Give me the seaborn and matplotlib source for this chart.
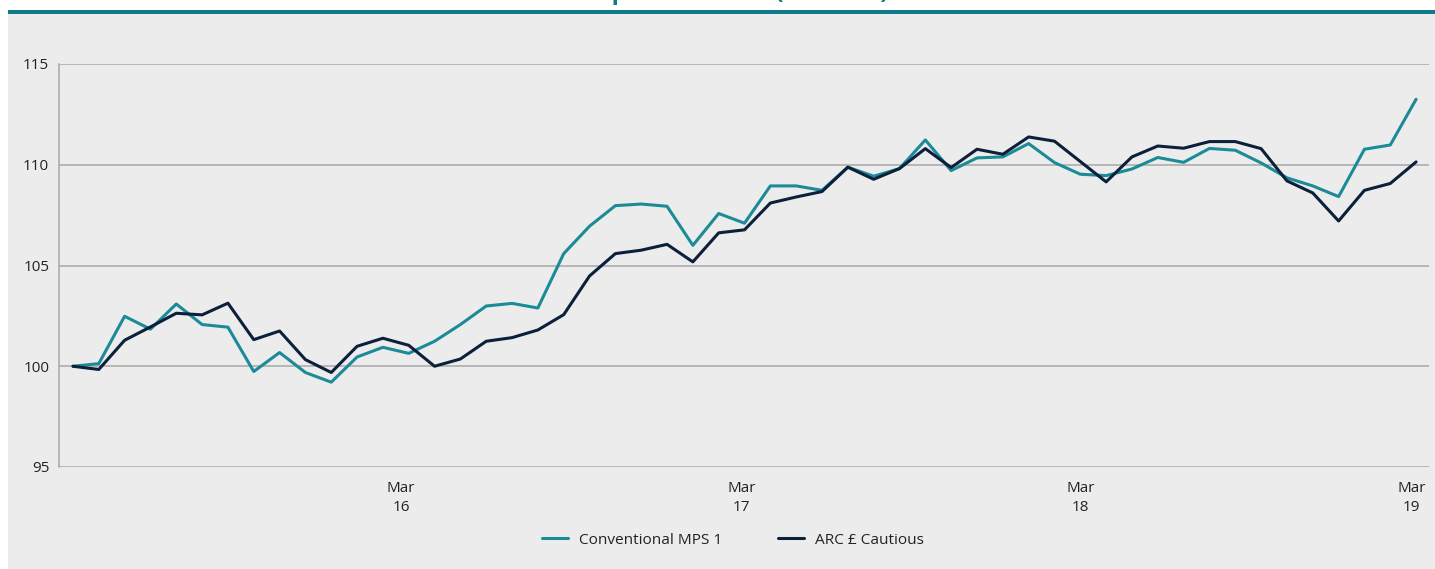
import numpy as np
import pandas as pd
import seaborn as sns
import matplotlib.pyplot as plt
from matplotlib.patches import Rectangle

# 4-weekly index values, rebased to 100
conventional = [100.0, 100.13, 102.48, 101.84, 103.09, 102.07, 101.94, 99.74, 100.68, 99.69,
                99.21, 100.46, 100.94, 100.64, 101.24, 102.07, 102.99, 103.12, 102.89, 105.59,
                106.95, 107.97, 108.05, 107.94, 106.0, 107.58, 107.10, 108.95, 108.95, 108.73,
                109.88, 109.43, 109.81, 111.23, 109.71, 110.34, 110.39, 111.05, 110.11, 109.53,
                109.46, 109.79, 110.36, 110.12, 110.81, 110.72, 110.09, 109.35, 108.95, 108.42,
                110.77, 110.98, 113.25]
arc_cautious = [100.0, 99.84, 101.29, 101.95, 102.63, 102.55, 103.13, 101.32, 101.75, 100.33,
                99.69, 100.99, 101.39, 101.04, 100.0, 100.36, 101.24, 101.42, 101.80, 102.56,
                104.48, 105.59, 105.76, 106.05, 105.18, 106.62, 106.77, 108.10, 108.40, 108.67,
                109.88, 109.28, 109.81, 110.80, 109.86, 110.77, 110.52, 111.38, 111.17, 110.16,
                109.15, 110.39, 110.93, 110.82, 111.15, 111.15, 110.80, 109.20, 108.60, 107.21,
                108.73, 109.07, 110.14]
series_names = ["Conventional MPS 1", "ARC £ Cautious"]
tick_pos = [12.71, 25.88, 39.02, 51.82]
tick_labels = ["Mar\n16", "Mar\n17", "Mar\n18", "Mar\n19"]
y_ticks = [95, 100, 105, 110, 115]

teal = "#1b8b97"
navy = "#0c1f3b"
panel = "#ececec"
grid = "#a8a8a8"

sns.set_style("white")
plt.rcParams["font.family"] = ["Open Sans", "DejaVu Sans"]

df = pd.DataFrame({
    "step": np.tile(np.arange(len(conventional)), 2),
    "value": conventional + arc_cautious,
    "series": np.repeat(series_names, len(conventional)),
})

W, H = 1435, 569
fig = plt.figure(figsize=(W / 100, H / 100), dpi=100, facecolor="white")

# grey panel + teal header rule, kept behind the axes
fig.patches.append(Rectangle((8 / W, 0), 1, 1 - 14 / H, transform=fig.transFigure,
                             facecolor=panel, edgecolor="none", zorder=-10))
fig.patches.append(Rectangle((8 / W, 1 - 13.5 / H), 1, 3.5 / H, transform=fig.transFigure,
                             facecolor="#0f7b88", edgecolor="none", zorder=-9))
# title sits mostly above the crop (as in the source), only descenders show
fig.text(677 / W, 1 + 1 / H, "Cumulative performance (rebased)", ha="center", va="baseline",
         fontsize=17.5, fontweight="bold", color="#0f7b88")

ax = fig.add_axes([59 / W, 1 - 467 / H, (1429 - 59) / W, (467 - 64) / H])
ax.set_zorder(5)
ax.set_facecolor(panel)
sns.lineplot(data=df, x="step", y="value", hue="series", palette=[teal, navy],
             linewidth=2.2, ax=ax, legend=False)

ax.set_xlim(-0.54, 52.5)
ax.set_ylim(95, 115)
ax.set_yticks(y_ticks)
ax.set_xticks(tick_pos)
ax.set_xticklabels(tick_labels, linespacing=1.4)
ax.tick_params(axis="both", length=0, labelsize=11, colors="#222222")
ax.tick_params(axis="x", pad=10)
ax.tick_params(axis="y", pad=7)
ax.yaxis.grid(True, color=grid, linewidth=1.1)
ax.xaxis.grid(False)
ax.set_axisbelow(True)
for side in ["top", "right", "bottom"]:
    ax.spines[side].set_visible(False)
ax.spines["left"].set_color(grid)
ax.spines["left"].set_linewidth(1.1)
ax.set_xlabel("")
ax.set_ylabel("")

handles = [plt.Line2D([], [], color=teal, linewidth=2.2),
           plt.Line2D([], [], color=navy, linewidth=2.2)]
fig.legend(handles, series_names, loc="center", bbox_to_anchor=(733 / W, 1 - 540 / H),
           ncol=2, frameon=False, fontsize=11.1, handlelength=1.7, handletextpad=0.7,
           columnspacing=3.6, labelcolor="#222222")

fig.savefig("out.png", dpi=100, facecolor="white")
